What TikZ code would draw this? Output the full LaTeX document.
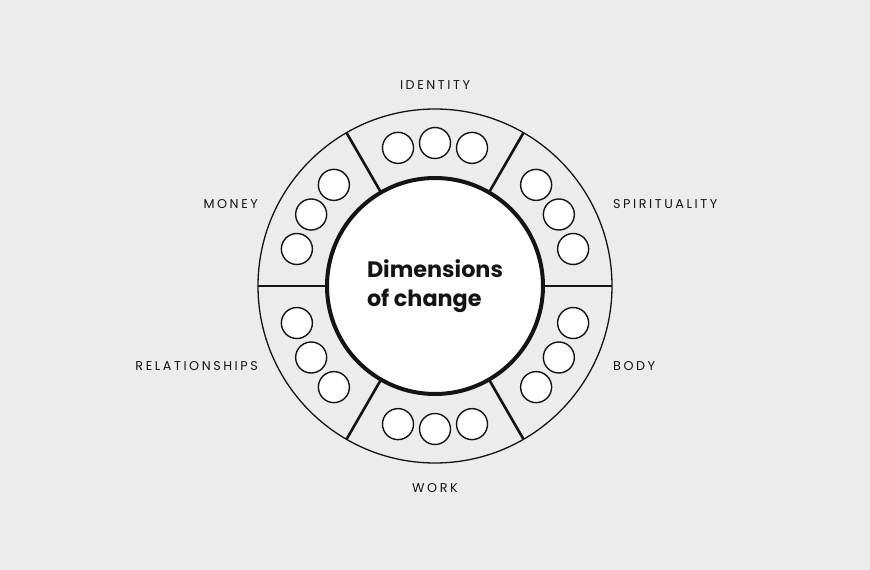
\documentclass[tikz,border=0pt]{standalone}
\usepackage{fontspec}
\setmainfont{Poppins}
\newfontfamily\tagfont[LetterSpace=20]{Poppins}
\usetikzlibrary{calc}
\definecolor{paper}{RGB}{236,236,236}
\definecolor{ink}{RGB}{20,20,20}
\begin{document}
\begin{tikzpicture}[x=1bp,y=-1bp,
  ring/.style={draw=ink,line width=1.3bp},
  spoke/.style={draw=ink,line width=2.6bp},
  dot/.style={circle,draw=ink,fill=white,line width=1.4bp,minimum size=31bp,inner sep=0pt},
  core/.style={circle,draw=ink,fill=white,line width=4bp,minimum size=216bp,inner sep=0pt,
    align=left,font=\bfseries\fontsize{22.4}{29}\selectfont,text=ink},
  tag/.style={font=\tagfont\fontsize{12.8}{15}\selectfont,text=ink,inner sep=0pt}]
\fill[paper] (0,0) rectangle (870,570);
\useasboundingbox (0,0) rectangle (870,570);
\coordinate (c) at (435,286);
% outer ring and the six dividing spokes
\draw[ring] (c) circle[radius=177];
\foreach \a in {0,60,...,300}
  \draw[spoke] ($(c)+(\a:108)$) -- ($(c)+(\a:177)$);
% three markers per sector
\foreach \nm/\a in {id/-90,sp/-30,bo/30,wo/90,re/150,mo/210}
  \foreach \k/\d in {1/-15,2/0,3/15}
    \node[dot] (\nm\k) at ($(c)+(\a+\d:143)$) {};
% hub
\node[core] (hub) at (c) {Dimensions\\of change};
% sector labels
\node[tag,anchor=base] (lid) at (435,90) {IDENTITY};
\node[tag,anchor=base west] (lsp) at (613,209) {SPIRITUALITY};
\node[tag,anchor=base west] (lbo) at (613,370) {BODY};
\node[tag,anchor=base] (lwo) at (435,492) {WORK};
\node[tag,anchor=base east] (lre) at (258,370) {RELATIONSHIPS};
\node[tag,anchor=base east] (lmo) at (258,209) {MONEY};
\end{tikzpicture}
\end{document}
